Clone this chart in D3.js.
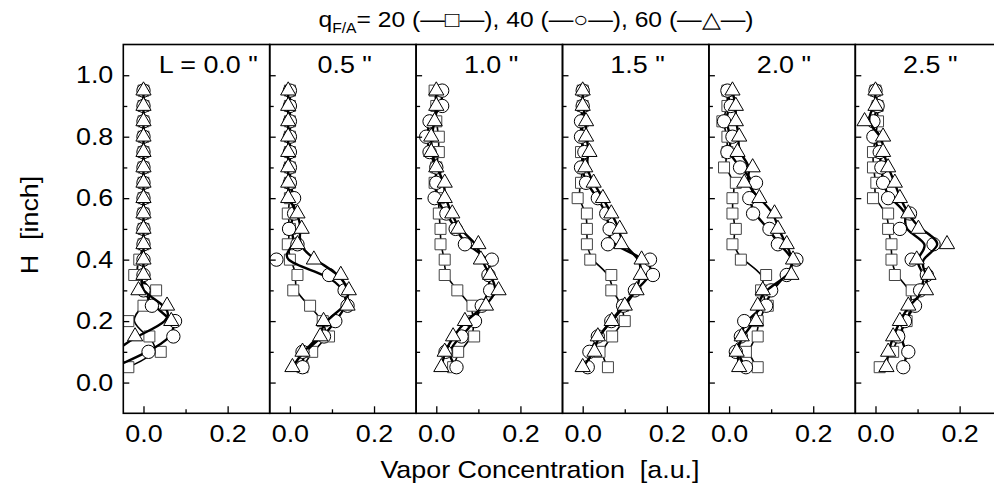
<!DOCTYPE html>
<html>
<head>
<meta charset="utf-8">
<script src="https://cdn.jsdelivr.net/npm/d3@7"></script>
<style>
body { margin: 0; background: #fff; }
text { font-family: "Liberation Sans", Arial, sans-serif; fill: #000; white-space: pre; }
.wide { transform-box: fill-box; transform-origin: center; transform: scaleX(1.12); }
.wideEnd { transform-box: fill-box; transform-origin: right center; transform: scaleX(1.12); }
</style>
</head>
<body>
<svg id="chart" width="994" height="499"></svg>
<script>
// heights at which vapor concentration was measured [inch]
var heights = [0.05, 0.10, 0.15, 0.20, 0.25, 0.30, 0.35, 0.40, 0.45, 0.50,
	0.55, 0.60, 0.65, 0.70, 0.75, 0.80, 0.85, 0.90, 0.95];
var panelLabels = ['L = 0.0 "', '0.5 "', '1.0 "', '1.5 "', '2.0 "', '2.5 "'];

// one row per panel, values from H = 0.05 up to 0.95
var q20 = [
	[-0.036, 0.041, 0.014, -0.036, 0.0, 0.03, -0.022, -0.01, 0, 0, 0, 0, 0, 0, 0, 0, 0, 0, 0],
	[0.03, 0.053, 0.093, 0.078, 0.048, 0.008, 0.018, 0.0, -0.005, 0.0, -0.005, 0, 0, 0, 0, 0, 0, 0, 0],
	[0.04, 0.052, 0.09, 0.088, 0.086, 0.05, 0.02, 0.02, 0.01, 0.01, 0.006, 0.006, -0.004, 0, 0.006, 0.006, 0, 0, -0.004],
	[0.06, 0.04, 0.07, 0.1, 0.096, 0.068, 0.068, 0.018, 0.01, 0.01, 0.01, -0.012, -0.004, 0, -0.004, 0, 0, 0, 0],
	[0.068, 0.04, 0.068, 0.068, 0.092, 0.076, 0.088, 0.028, 0.008, 0.016, 0.008, 0.008, 0.016, -0.012, -0.004, -0.004, -0.016, -0.004, -0.004],
	[0.01, 0.042, 0.054, 0.074, 0.086, 0.086, 0.046, 0.038, 0.038, 0.03, 0.03, -0.006, 0.002, -0.006, -0.006, 0.0, 0.006, 0.005, 0]
];
var q40 = [
	[-0.07, 0.012, 0.071, 0.075, 0.02, 0.0, 0, 0, 0, 0, 0, 0, 0, 0, 0, 0, 0, 0, 0],
	[0.03, 0.03, 0.081, 0.108, 0.137, 0.13, 0.093, -0.032, 0.018, -0.002, 0.01, 0.01, 0, 0, 0, 0, 0, 0, 0],
	[0.048, 0.022, 0.06, 0.092, 0.108, 0.128, 0.124, 0.132, 0.068, 0.046, 0.024, -0.004, 0, 0, -0.016, -0.024, -0.016, 0.014, 0.014],
	[0.012, 0.016, 0.036, 0.068, 0.096, 0.124, 0.167, 0.16, 0.06, 0.064, 0.056, 0.036, 0.008, -0.004, 0.004, -0.004, -0.004, 0, 0],
	[0.04, 0.016, 0.028, 0.036, 0.088, 0.1, 0.137, 0.16, 0.116, 0.096, 0.057, 0.048, 0.064, 0.026, -0.004, 0.008, -0.012, 0.004, -0.004],
	[0.066, 0.078, 0.054, 0.07, 0.094, 0.106, 0.122, 0.086, 0.138, 0.058, 0.082, 0.03, 0.018, 0.014, 0.01, -0.005, -0.005, 0.005, 0]
];
var q60 = [
	[-0.09, -0.07, -0.02, 0.066, 0.056, -0.012, 0, 0, 0, 0, 0, 0, 0, 0, 0, 0, 0, 0, 0],
	[0.006, 0.03, 0.072, 0.08, 0.137, 0.14, 0.121, 0.057, 0.018, 0.028, 0.018, -0.004, -0.004, -0.004, -0.004, -0.004, -0.004, -0.004, -0.004],
	[0.012, 0.02, 0.04, 0.068, 0.118, 0.148, 0.128, 0.106, 0.1, 0.052, 0.038, 0.02, 0.02, 0, -0.012, -0.012, -0.004, 0, 0],
	[0, 0.028, 0.036, 0.069, 0.1, 0.128, 0.138, 0.14, 0.092, 0.088, 0.068, 0.048, 0.026, 0.006, 0.016, 0.008, 0.008, 0, 0],
	[0.024, 0.018, 0.03, 0.064, 0.068, 0.08, 0.148, 0.152, 0.137, 0.116, 0.108, 0.072, 0.036, 0.056, 0.02, 0.024, 0.016, 0.016, 0.008],
	[0.026, 0.03, 0.042, 0.058, 0.078, 0.12, 0.126, 0.098, 0.17, 0.102, 0.078, 0.058, 0.046, 0.03, 0.018, 0.018, -0.026, 0, 0]
];

var xMajor = [0, 0.2];
var xMinor = [0.1];
var yMajor = [0, 0.2, 0.4, 0.6, 0.8, 1.0];
var yMinor = [0.1, 0.3, 0.5, 0.7, 0.9];

////////// layout //////////
var plotLeft = 123.3, panelW = 146.4, plotTop = 44.5, plotBottom = 413.3;

var svg = d3.select('#chart');

var x = d3.scaleLinear().domain([-0.048, 0.3]).range([0, panelW]);
var y = d3.scaleLinear().domain([-0.1, 1.1]).range([plotBottom, plotTop]);

svg.append('defs').append('clipPath')
	.attr('id', 'panelClip')
	.append('rect')
	.attr('x', 0)
	.attr('y', plotTop)
	.attr('width', panelW)
	.attr('height', plotBottom - plotTop);

var series = [
	{ vals: q20, symbol: d3.symbolSquare, size: 121, stroke: '#444', lineW: 1.6 },
	{ vals: q40, symbol: d3.symbolCircle, size: 140, stroke: '#000', lineW: 2.4 },
	{ vals: q60, symbol: d3.symbolTriangle, size: 100, stroke: '#000', lineW: 2.4 }
];

var line = d3.line()
	.x(d => x(d[0]))
	.y(d => y(d[1]))
	.curve(d3.curveBasis);

panelLabels.forEach(function(label, p) {
	var g = svg.append('g')
		.attr('class', 'panel')
		.attr('transform', 'translate(' + (plotLeft + p * panelW) + ',0)');

	var data = g.append('g').attr('clip-path', 'url(#panelClip)');
	series.forEach(function(s) {
		var pts = s.vals[p].map((v, i) => [v, heights[i]]);
		data.append('path')
			.attr('d', line(pts))
			.attr('fill', 'none')
			.attr('stroke', '#000')
			.attr('stroke-width', s.lineW);
		data.selectAll(null)
			.data(pts)
			.enter()
			.append('path')
			.attr('transform', d => 'translate(' + x(d[0]) + ',' + y(d[1]) + ')')
			.attr('d', d3.symbol().type(s.symbol).size(s.size))
			.attr('fill', '#fff')
			.attr('stroke', s.stroke)
			.attr('stroke-width', 1);
	});

	// inward ticks
	var yAx = g.append('g')
		.call(d3.axisLeft(y).tickValues(yMajor).tickSize(-6).tickPadding(10)
			.tickFormat(p === 0 ? d3.format('.1f') : ''));
	g.append('g')
		.call(d3.axisLeft(y).tickValues(yMinor).tickSize(-4).tickFormat(''));
	var xAx = g.append('g')
		.attr('transform', 'translate(0,' + plotBottom + ')')
		.call(d3.axisBottom(x).tickValues(xMajor).tickSize(-7).tickPadding(12)
			.tickFormat(d3.format('.1f')));
	g.append('g')
		.attr('transform', 'translate(0,' + plotBottom + ')')
		.call(d3.axisBottom(x).tickValues(xMinor).tickSize(-4).tickFormat(''));

	g.selectAll('.domain').remove();
	g.selectAll('.tick line').attr('stroke', '#000').attr('stroke-width', 1.3);
	g.selectAll('.tick text').attr('font-size', 24).attr('font-family', null);
	xAx.selectAll('.tick text').attr('class', 'wide');
	yAx.selectAll('.tick text').attr('class', 'wideEnd');

	g.append('rect')
		.attr('x', 0)
		.attr('y', plotTop)
		.attr('width', panelW)
		.attr('height', plotBottom - plotTop)
		.attr('fill', 'none')
		.attr('stroke', '#000')
		.attr('stroke-width', 1.6);

	g.append('text')
		.attr('class', 'wide')
		.attr('x', p === 0 ? 85 : 75)
		.attr('y', 73)
		.attr('text-anchor', 'middle')
		.attr('font-size', 24)
		.text(label);
});

// axis titles
svg.append('text')
	.attr('class', 'wide')
	.attr('x', 540)
	.attr('y', 478)
	.attr('text-anchor', 'middle')
	.attr('font-size', 24)
	.text('Vapor Concentration  [a.u.]');

svg.append('g')
	.attr('transform', 'translate(38,225) rotate(-90)')
	.append('text')
	.attr('class', 'wide')
	.attr('text-anchor', 'middle')
	.attr('font-size', 24)
	.text('H  [inch]');

var title = svg.append('text')
	.attr('class', 'wide')
	.attr('x', 536)
	.attr('y', 27)
	.attr('text-anchor', 'middle')
	.attr('font-size', 22);
title.append('tspan').text('q');
title.append('tspan').attr('font-size', 14).attr('dy', 6).text('F/A');
title.append('tspan').attr('dy', -6).text('= 20 (\u2014\u25A1\u2014), 40 (\u2014\u25CB\u2014), 60 (\u2014\u25B3\u2014)');
</script>
</body>
</html>
